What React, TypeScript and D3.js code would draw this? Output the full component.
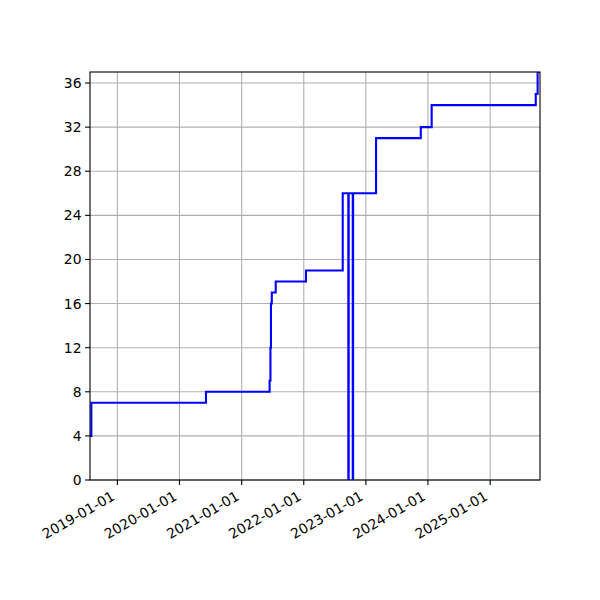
import { useRef, useLayoutEffect } from "react";
import * as d3 from "d3";

// step series: the value holds until the next date
const stepDates = [
  "2018-07-24", "2018-08-01", "2020-06-05", "2021-06-14", "2021-06-19",
  "2021-06-22", "2021-06-27", "2021-07-20", "2022-01-14", "2022-08-18",
  "2022-09-20", "2022-09-22", "2022-10-16", "2022-10-18", "2023-03-02",
  "2023-11-20", "2024-01-23", "2025-09-26", "2025-10-07", "2025-10-21",
];
const stepValues = [
  4, 7, 8, 9, 12,
  16, 17, 18, 19, 26,
  0, 26, 0, 26, 31,
  32, 34, 35, 37, 37,
];
const yTicks = [0, 4, 8, 12, 16, 20, 24, 28, 32, 36];
const xTickLabels = [
  "2019-01-01", "2020-01-01", "2021-01-01", "2022-01-01",
  "2023-01-01", "2024-01-01", "2025-01-01",
];

const W = 600;
const H = 600;
const left = 90, right = 540, top = 72, bottom = 480;

export default function App() {
  const svgRef = useRef<SVGSVGElement | null>(null);

  useLayoutEffect(() => {
    if (!svgRef.current) return;
    const svg = d3.select(svgRef.current);
    svg.selectAll("*").remove();

    const parse = d3.utcParse("%Y-%m-%d");
    const data = stepDates.map((d, i) => ({ date: parse(d) as Date, value: stepValues[i] }));

    const x = d3
      .scaleUtc()
      .domain(d3.extent(data, (d) => d.date) as [Date, Date])
      .range([left, right]);
    const y = d3.scaleLinear().domain([0, 37]).range([bottom, top]);

    const font = "DejaVu Sans, sans-serif";

    svg.append("rect").attr("width", W).attr("height", H).attr("fill", "#fff");

    svg
      .append("defs")
      .append("clipPath")
      .attr("id", "plot-clip")
      .append("rect")
      .attr("x", left)
      .attr("y", top)
      .attr("width", right - left)
      .attr("height", bottom - top);

    const xTickDates = xTickLabels.map((s) => parse(s) as Date);

    // grid
    const grid = svg.append("g").attr("stroke", "#b0b0b0").attr("stroke-width", 1.1);
    grid
      .selectAll("line.gx")
      .data(xTickDates)
      .enter()
      .append("line")
      .attr("x1", (d) => x(d))
      .attr("x2", (d) => x(d))
      .attr("y1", top)
      .attr("y2", bottom);
    grid
      .selectAll("line.gy")
      .data(yTicks)
      .enter()
      .append("line")
      .attr("x1", left)
      .attr("x2", right)
      .attr("y1", (d) => y(d))
      .attr("y2", (d) => y(d));

    // step line
    const line = d3
      .line<{ date: Date; value: number }>()
      .x((d) => x(d.date))
      .y((d) => y(d.value))
      .curve(d3.curveStepAfter);
    svg
      .append("path")
      .datum(data)
      .attr("clip-path", "url(#plot-clip)")
      .attr("fill", "none")
      .attr("stroke", "#0000ff")
      .attr("stroke-width", 2.1)
      .attr("d", line);

    // spines
    svg
      .append("rect")
      .attr("x", left)
      .attr("y", top)
      .attr("width", right - left)
      .attr("height", bottom - top)
      .attr("fill", "none")
      .attr("stroke", "#000")
      .attr("stroke-width", 1.1);

    // y ticks
    const yg = svg.append("g");
    yg.selectAll("line")
      .data(yTicks)
      .enter()
      .append("line")
      .attr("x1", left - 4.9)
      .attr("x2", left)
      .attr("y1", (d) => y(d))
      .attr("y2", (d) => y(d))
      .attr("stroke", "#000")
      .attr("stroke-width", 1.1);
    yg.selectAll("text")
      .data(yTicks)
      .enter()
      .append("text")
      .attr("x", left - 8.5)
      .attr("y", (d) => y(d))
      .attr("dy", "0.36em")
      .attr("text-anchor", "end")
      .attr("font-family", font)
      .attr("font-size", 13.9)
      .text((d) => d);

    // x ticks, labels rotated like autofmt_xdate
    const xg = svg.append("g");
    xg.selectAll("line")
      .data(xTickDates)
      .enter()
      .append("line")
      .attr("x1", (d) => x(d))
      .attr("x2", (d) => x(d))
      .attr("y1", bottom)
      .attr("y2", bottom + 4.9)
      .attr("stroke", "#000")
      .attr("stroke-width", 1.1);
    xg.selectAll("text")
      .data(xTickDates)
      .enter()
      .append("text")
      .attr("transform", (d) => `translate(${x(d) - 1.6}, ${bottom + 19}) rotate(-30)`)
      .attr("text-anchor", "end")
      .attr("font-family", font)
      .attr("font-size", 13.9)
      .text((d, i) => xTickLabels[i]);
  }, []);

  return (
    <svg
      ref={svgRef}
      width={W}
      height={H}
      style={{ display: "block", position: "absolute", left: 0, top: 0 }}
    />
  );
}
